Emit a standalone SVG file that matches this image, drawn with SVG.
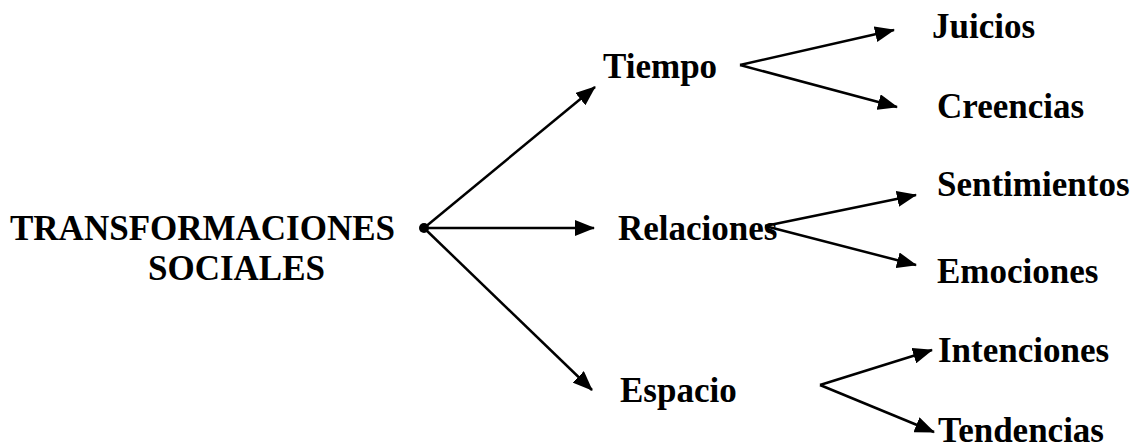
<svg xmlns="http://www.w3.org/2000/svg" width="1137" height="447" viewBox="0 0 1137 447">
<defs>
<marker id="ah" viewBox="0 0 20 16" refX="19" refY="8" markerWidth="20" markerHeight="16" markerUnits="userSpaceOnUse" orient="auto">
<path d="M0,0 L20,8 L0,16 z" fill="#000"/>
</marker>
</defs>
<rect width="1137" height="447" fill="#fff"/>
<g id="root"><text x="10" y="240" font-family="Liberation Serif" font-weight="bold" font-size="35">TRANSFORMACIONES</text><text x="148" y="280" font-family="Liberation Serif" font-weight="bold" font-size="35">SOCIALES</text></g>
<g id="tiempo"><text x="603" y="78" font-family="Liberation Serif" font-weight="bold" font-size="35">Tiempo</text></g>
<g id="relaciones"><text x="618" y="240" font-family="Liberation Serif" font-weight="bold" font-size="35">Relaciones</text></g>
<g id="espacio"><text x="620" y="402" font-family="Liberation Serif" font-weight="bold" font-size="35">Espacio</text></g>
<g id="juicios"><text x="932" y="38" font-family="Liberation Serif" font-weight="bold" font-size="35">Juicios</text></g>
<g id="creencias"><text x="937" y="118" font-family="Liberation Serif" font-weight="bold" font-size="35">Creencias</text></g>
<g id="sentimientos"><text x="937" y="196" font-family="Liberation Serif" font-weight="bold" font-size="35">Sentimientos</text></g>
<g id="emociones"><text x="937" y="283" font-family="Liberation Serif" font-weight="bold" font-size="35">Emociones</text></g>
<g id="intenciones"><text x="938" y="362" font-family="Liberation Serif" font-weight="bold" font-size="35">Intenciones</text></g>
<g id="tendencias"><text x="938" y="442" font-family="Liberation Serif" font-weight="bold" font-size="35">Tendencias</text></g>
<g id="connectors" stroke="#000" stroke-width="2.5" fill="none">
<circle cx="424" cy="228" r="5" fill="#000" stroke="none"/>
<line x1="424" y1="228" x2="595" y2="87" marker-end="url(#ah)"/>
<line x1="424" y1="228" x2="594" y2="228" marker-end="url(#ah)"/>
<line x1="424" y1="228" x2="592" y2="390" marker-end="url(#ah)"/>
<line x1="740" y1="65" x2="894" y2="30" marker-end="url(#ah)"/>
<line x1="740" y1="65" x2="897" y2="107" marker-end="url(#ah)"/>
<line x1="765" y1="226" x2="916" y2="195" marker-end="url(#ah)"/>
<line x1="765" y1="226" x2="916" y2="265" marker-end="url(#ah)"/>
<line x1="820" y1="385" x2="932" y2="350" marker-end="url(#ah)"/>
<line x1="820" y1="385" x2="934" y2="432" marker-end="url(#ah)"/>
</g>
</svg>
